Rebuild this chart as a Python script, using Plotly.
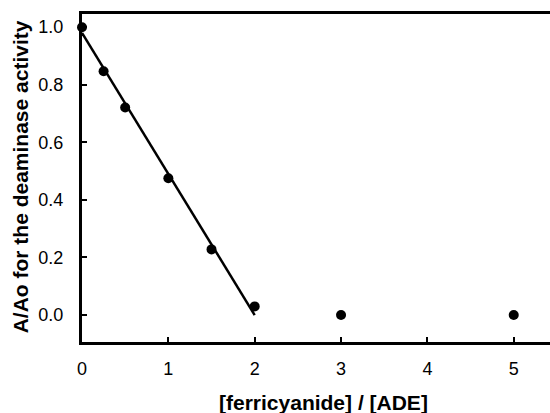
import plotly.graph_objects as go

# data
ratio = [0, 0.25, 0.5, 1.0, 1.5, 2.0, 3.0, 5.0]
activity = [1.0, 0.847, 0.721, 0.475, 0.228, 0.03, 0.0, 0.0]
fit_x = [0.0, 2.0]
fit_y = [0.98, 0.0]
x_ticks = [0, 1, 2, 3, 4, 5]
y_ticks = [0.0, 0.2, 0.4, 0.6, 0.8, 1.0]
y_ticktext = ["0.0", "0.2", "0.4", "0.6", "0.8", "1.0"]

FONT = "Liberation Sans, Arial, Helvetica, sans-serif"
W, H = 550, 413
L, R, T, B = 81.5, 0, 13.5, 71
pw = W - L - R
ph = H - T - B

fig = go.Figure()
fig.add_trace(go.Scatter(x=fit_x, y=fit_y, mode="lines",
                         line=dict(color="black", width=2.5),
                         showlegend=False, cliponaxis=False))
fig.add_trace(go.Scatter(x=ratio, y=activity, mode="markers",
                         marker=dict(color="black", size=10),
                         showlegend=False, cliponaxis=False))

fig.update_layout(
    width=W, height=H,
    margin=dict(l=L, r=R, t=T, b=B, pad=0),
    paper_bgcolor="white", plot_bgcolor="white",
    font=dict(family=FONT, color="black", size=18),
    xaxis=dict(range=[0, 5.42], tickvals=x_ticks, ticks="inside", ticklen=5,
               tickwidth=2, tickcolor="black", showline=True, linecolor="black",
               linewidth=3, mirror=True, showgrid=False, zeroline=False,
               tickfont=dict(size=18), ticklabelstandoff=8),
    yaxis=dict(range=[-0.0937, 1.0458], tickvals=y_ticks, ticktext=y_ticktext,
               ticks="inside", ticklen=5, tickwidth=2, tickcolor="black",
               showline=True, linecolor="black", linewidth=3, mirror=False,
               showgrid=False, zeroline=False, tickfont=dict(size=18),
               ticklabelstandoff=12),
)

fig.add_annotation(text="<b>A/Ao for the deaminase activity</b>", xref="paper", yref="paper",
                   x=(20 - L) / pw, y=(H - B - 176.5) / ph, xanchor="center", yanchor="middle",
                   textangle=-90, showarrow=False, font=dict(size=21, family=FONT))
fig.add_annotation(text="<b>[ferricyanide] / [ADE]</b>", xref="paper", yref="paper",
                   x=(323.5 - L) / pw, y=(H - B - 403) / ph, xanchor="center", yanchor="middle",
                   showarrow=False, font=dict(size=21, family=FONT))

fig.write_html("out.html")
